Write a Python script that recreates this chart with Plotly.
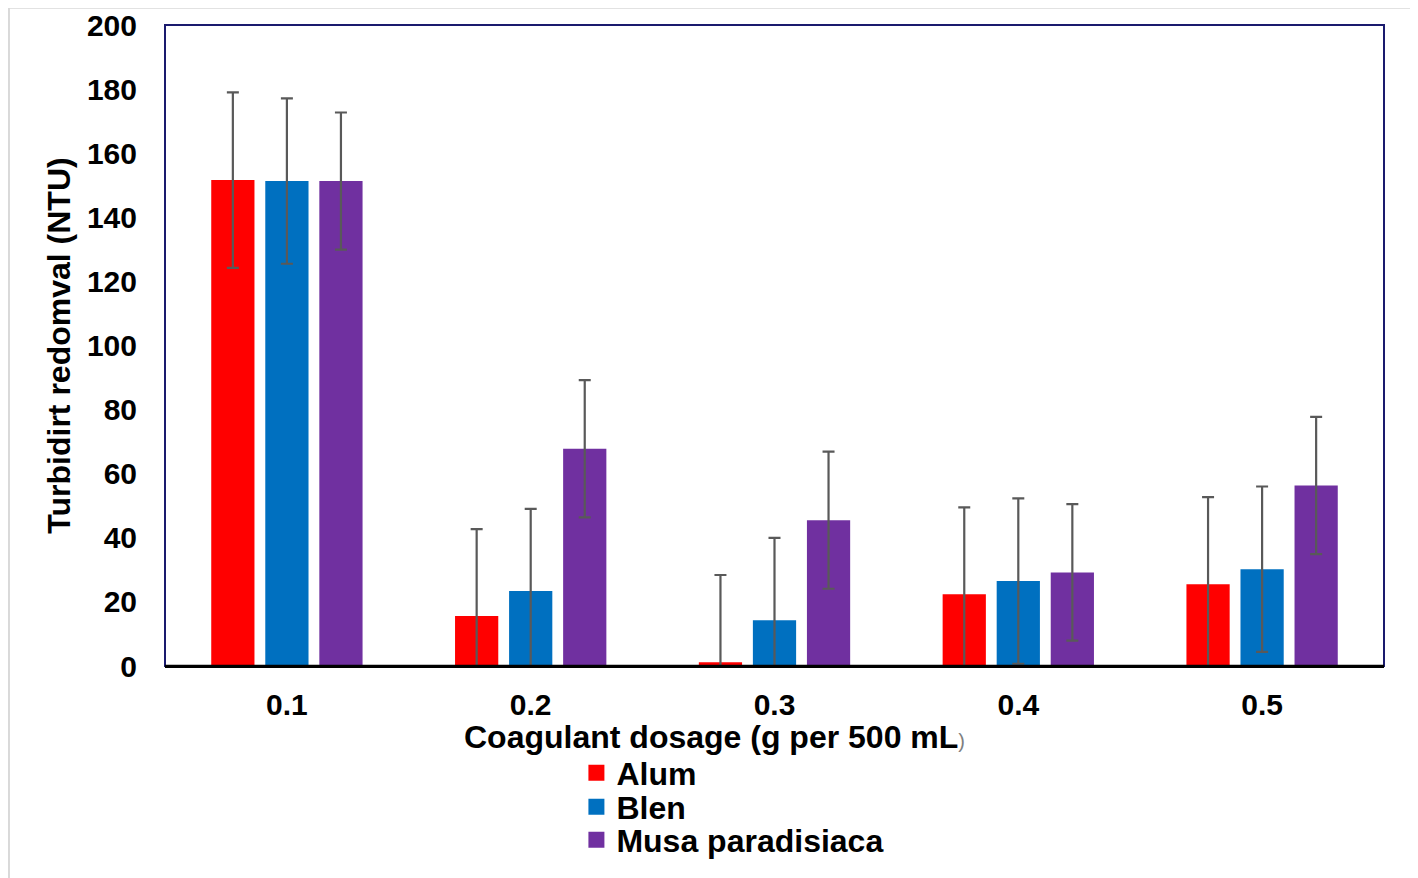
import plotly.graph_objects as go

categories = ["0.1", "0.2", "0.3", "0.4", "0.5"]
alum = [151.6, 15.6, 1.2, 22.4, 25.5]
alum_err = [27.4, 27.1, 27.2, 27.1, 27.2]
blen = [151.3, 23.4, 14.3, 26.5, 30.2]
blen_err = [25.8, 25.6, 25.7, 25.8, 25.8]
musa = [151.3, 67.8, 45.5, 29.2, 56.3]
musa_err = [21.4, 21.4, 21.4, 21.3, 21.4]
y_ticks = [0, 20, 40, 60, 80, 100, 120, 140, 160, 180, 200]

FONT = "Arial, Liberation Sans, sans-serif"
ERR = "#595959"

series = [
    ("Alum", alum, alum_err, "#FF0000", "legend", -0.1669),
    ("Blen", blen, blen_err, "#0070C0", "legend2", -0.2200),
    ("Musa paradisiaca", musa, musa_err, "#7030A0", "legend3", -0.2715),
]

fig = go.Figure()
for name, vals, errs, col, lg, ly in series:
    fig.add_trace(go.Bar(
        x=categories, y=vals, name=name, showlegend=False,
        marker=dict(color=col, line=dict(width=0)),
        error_y=dict(type="data", array=errs, visible=True,
                     color=ERR, thickness=2.2, width=6),
    ))
for name, vals, errs, col, lg, ly in series:
    fig.add_trace(go.Scatter(
        x=[None], y=[None], name=name, mode="markers", legend=lg,
        marker=dict(symbol="square", size=16, color=col),
        showlegend=True,
    ))

legend_common = dict(
    xanchor="left", yanchor="middle", orientation="v",
    bgcolor="rgba(0,0,0,0)", borderwidth=0,
    font=dict(family=FONT, size=32, color="black", weight="bold"),
    itemwidth=30,
)

fig.update_layout(
    width=1418, height=878,
    paper_bgcolor="white", plot_bgcolor="white",
    margin=dict(l=157, r=42, t=17, b=220, autoexpand=False),
    barmode="group", bargap=0.335, bargroupgap=0.2,
    font=dict(family=FONT, color="black", size=30),
    showlegend=True,
    legend=dict(x=0.3375, y=series[0][5], **legend_common),
    legend2=dict(x=0.3375, y=series[1][5], **legend_common),
    legend3=dict(x=0.3375, y=series[2][5], **legend_common),
    xaxis=dict(
        type="category", showgrid=False, ticks="",
        showline=True, linecolor="black", linewidth=2,
        tickfont=dict(family=FONT, size=30, weight="bold"),
        ticklabelstandoff=11,
    ),
    yaxis=dict(
        range=[0, 200], tickvals=y_ticks, showgrid=False, ticks="",
        showline=False, zeroline=False,
        tickfont=dict(family=FONT, size=30, weight="bold"),
        ticklabelstandoff=27,
        title=dict(text="Turbidirt redomval (NTU)",
                   font=dict(family=FONT, size=32, weight="bold"), standoff=6),
    ),
    annotations=[
        dict(
            text="Coagulant dosage (g per 500 mL<span style='font-size:20px;color:#7f7f7f;font-weight:normal'>)</span>",
            xref="paper", yref="paper", x=0.4504, y=-0.110,
            xanchor="center", yanchor="middle", showarrow=False,
            font=dict(family=FONT, size=32, weight="bold", color="black"),
        ),
    ],
    shapes=[
        dict(type="rect", xref="paper", yref="paper", x0=0, x1=1, y0=0, y1=1,
             line=dict(color="#1A1A6E", width=2), layer="below"),
        dict(type="line", xref="paper", yref="paper", x0=0, x1=1, y0=0, y1=0,
             line=dict(color="black", width=2.5), layer="above"),
        dict(type="rect", xref="paper", yref="paper",
             x0=-0.128, x1=1.0254, y0=-0.36, y1=1.027,
             line=dict(color="#D9D9D9", width=2)),
    ],
)

fig.write_html("out.html")
